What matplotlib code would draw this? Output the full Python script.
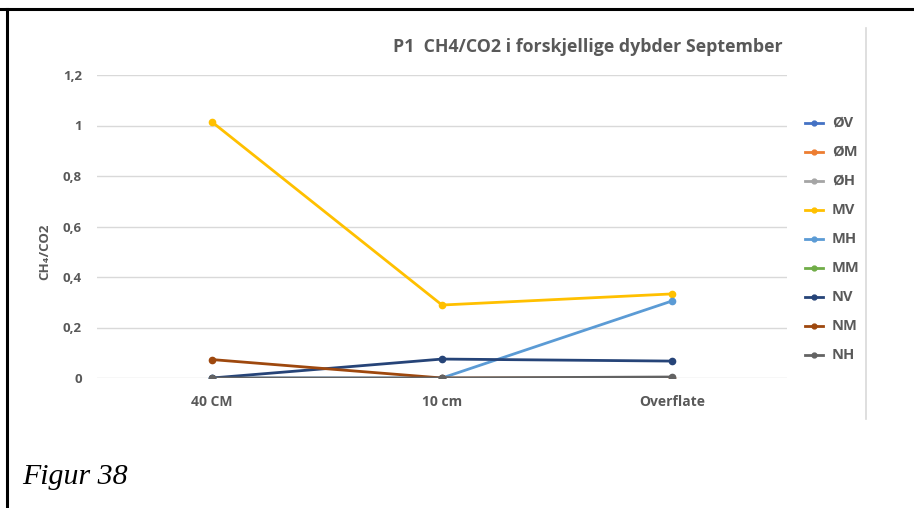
import numpy as np
import matplotlib
matplotlib.use("Agg")
import matplotlib.pyplot as plt
from matplotlib.lines import Line2D

categories = ["40 CM", "10 cm", "Overflate"]
series_names = ["ØV", "ØM", "ØH", "MV", "MH", "MM", "NV", "NM", "NH"]
series_colors = ["#4472C4", "#ED7D31", "#A5A5A5", "#FFC000", "#5B9BD5",
                 "#70AD47", "#264478", "#9E480E", "#636363"]
nan = np.nan
ov = [nan, nan, nan]
om = [nan, nan, nan]
oh = [nan, nan, nan]
mv = [1.014, 0.289, 0.333]
mh = [0.0, 0.0, 0.305]
mm = [nan, nan, nan]
nv = [0.0, 0.075, 0.067]
nm = [0.073, 0.0, 0.0]
nh = [0.0, 0.0, 0.004]
series_values = [ov, om, oh, mv, mh, mm, nv, nm, nh]
y_ticks = [0, 0.2, 0.4, 0.6, 0.8, 1.0, 1.2]
y_tick_labels = ["0", "0,2", "0,4", "0,6", "0,8", "1", "1,2"]

W, H = 914, 508
fig = plt.figure(figsize=(W / 100, H / 100), dpi=100)
fig.patch.set_facecolor("white")

text_gray = "#595959"
sans = ["Open Sans", "DejaVu Sans"]

# page frame lines
fig.add_artist(Line2D([0, 1], [1 - 9 / H, 1 - 9 / H], color="black", lw=2.2,
                      transform=fig.transFigure))
fig.add_artist(Line2D([7 / W, 7 / W], [0, 1 - 9 / H], color="black", lw=2.2,
                      transform=fig.transFigure))
# chart area right edge
fig.add_artist(Line2D([866 / W, 866 / W], [1 - 419 / H, 1 - 28 / H],
                      color="#D9D9D9", lw=1.2, transform=fig.transFigure))

ax = fig.add_axes([97 / W, 130 / H, (787 - 97) / W, (378 - 75) / H])
x = np.arange(len(categories))
for name, vals, col in zip(series_names, series_values, series_colors):
    ax.plot(x, vals, color=col, lw=2.0, marker="o", ms=4.5, label=name,
            solid_capstyle="round")

ax.set_xlim(-0.5, len(categories) - 0.5)
ax.set_ylim(0, 1.2)
ax.set_yticks(y_ticks)
ax.set_yticklabels(y_tick_labels)
ax.set_xticks(x)
ax.set_xticklabels(categories)
ax.grid(axis="y", color="#D9D9D9", lw=1.0)
ax.set_axisbelow(True)
for s in ax.spines.values():
    s.set_visible(False)
ax.tick_params(length=0, labelcolor=text_gray)
ax.tick_params(axis="y", pad=11, labelsize=9.5)
ax.tick_params(axis="x", pad=12, labelsize=10)
for lab in ax.get_xticklabels() + ax.get_yticklabels():
    lab.set_fontweight("bold")
    lab.set_family(sans)

fig.text(45 / W, 1 - 252 / H, "CH₄/CO2", rotation=90, ha="center", va="center",
         fontsize=9.5, color=text_gray, fontweight="bold", family=sans)

fig.text(783 / W, 1 - 47 / H, "P1  CH4/CO2 i forskjellige dybder September",
         ha="right", va="center", fontsize=12.8, color=text_gray,
         fontweight="bold", family=sans)

# legend
leg_y0, leg_dy = 123, 29.0
for i, (name, col) in enumerate(zip(series_names, series_colors)):
    yy = 1 - (leg_y0 + i * leg_dy) / H
    fig.add_artist(Line2D([805 / W, 823 / W], [yy, yy], color=col, lw=2.0,
                          transform=fig.transFigure))
    fig.add_artist(Line2D([814 / W], [yy], color=col, marker="o", ms=3.5,
                          lw=0, transform=fig.transFigure))
    fig.text(832 / W, yy, name, ha="left", va="center", fontsize=10.5,
             color=text_gray, fontweight="bold", family=sans)

fig.text(22 / W, 1 - 477 / H, "Figur 38", ha="left", va="center",
         fontsize=21.5, style="italic", family="Liberation Serif", color="black")

fig.savefig("out.png", dpi=100)
